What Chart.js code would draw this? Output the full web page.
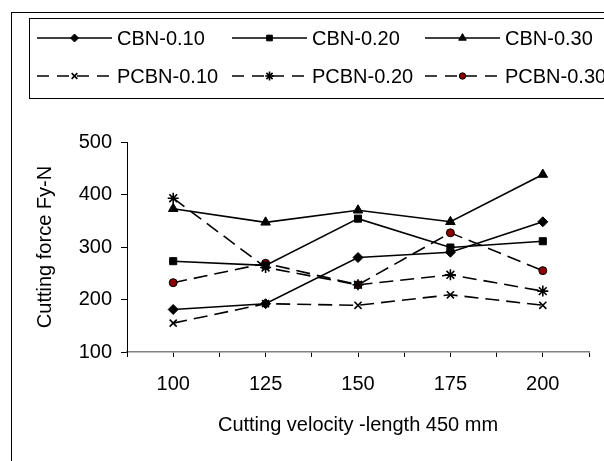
<!DOCTYPE html>
<html>
<head>
<meta charset="utf-8">
<script src="https://cdn.jsdelivr.net/npm/chart.js@4"></script>
<style>
  html, body { margin: 0; padding: 0; background: #fff; }
  #wrap { width: 604px; height: 461px; position: relative; }
</style>
</head>
<body>
<div id="wrap"><canvas id="chart" width="604" height="461"></canvas></div>
<script>
// cutting velocity (x)
const velocities = [100, 125, 150, 175, 200];
const seriesNames = ['CBN-0.10', 'CBN-0.20', 'CBN-0.30', 'PCBN-0.10', 'PCBN-0.20', 'PCBN-0.30'];

// cutting force Fy (N)
const cbn010 = [181, 192, 280, 290, 348];
const cbn020 = [273, 265, 354, 299, 311];
const cbn030 = [373, 347, 370, 348, 438];
const pcbn010 = [155, 192, 189, 209, 189];
const pcbn020 = [393, 261, 228, 247, 216];
const pcbn030 = [232, 269, 228, 327, 255];

const yTicks = [100, 200, 300, 400, 500];
const xTickLabels = ['100', '125', '150', '175', '200'];

const FONT = "'Liberation Sans', Arial, sans-serif";
Chart.defaults.font.family = FONT;
Chart.defaults.font.size = 20;
Chart.defaults.color = '#000';

const solid = [];
const dashed = [14, 7];

function pts(vals) {
  return vals.map((v, i) => ({ x: velocities[i], y: v }));
}

function series(name, vals, dash, style, radius, fill, bw) {
  return {
    label: name,
    data: pts(vals),
    borderColor: '#000',
    borderWidth: 1.6,
    borderDash: dash,
    pointStyle: style,
    pointRadius: radius,
    pointHoverRadius: radius,
    pointBackgroundColor: fill,
    pointBorderColor: '#000',
    pointBorderWidth: bw,
    tension: 0,
    fill: false
  };
}

const datasets = [
  series(seriesNames[0], cbn010, solid, 'rectRot', 5, '#000', 1),
  series(seriesNames[1], cbn020, solid, 'rect', 5, '#000', 1),
  series(seriesNames[2], cbn030, solid, 'triangle', 5.5, '#000', 1),
  series(seriesNames[3], pcbn010, dashed, 'crossRot', 5, '#000', 1.6),
  series(seriesNames[4], pcbn020, dashed, 'star', 5.5, '#000', 1.6),
  series(seriesNames[5], pcbn030, dashed, 'circle', 4, '#8b0000', 1)
];

// frame + legend box drawn like the spreadsheet export
const framePlugin = {
  id: 'frame',
  afterDraw(chart) {
    const ctx = chart.ctx;
    ctx.save();
    ctx.strokeStyle = '#000';
    ctx.lineWidth = 1;
    ctx.setLineDash([]);
    ctx.strokeRect(11.5, 12.5, 800, 600);
    ctx.strokeRect(29.5, 18.5, 800, 80);

    const rows = [38, 76];
    const cols = [37, 232, 425];
    chart.data.datasets.forEach((ds, i) => {
      const y = rows[Math.floor(i / 3)];
      const x0 = cols[i % 3];
      const len = 75;
      ctx.beginPath();
      ctx.setLineDash(ds.borderDash.length ? [12, 8] : []);
      ctx.lineWidth = ds.borderWidth;
      ctx.strokeStyle = ds.borderColor;
      ctx.moveTo(x0, y);
      ctx.lineTo(x0 + len, y);
      ctx.stroke();
      ctx.setLineDash([]);
      ctx.fillStyle = ds.pointBackgroundColor;
      ctx.strokeStyle = ds.pointBorderColor;
      ctx.lineWidth = ds.pointBorderWidth;
      Chart.helpers.drawPoint(ctx, {
        pointStyle: ds.pointStyle,
        radius: ds.pointRadius * 0.8,
        rotation: 0,
        borderWidth: ds.pointBorderWidth
      }, x0 + len / 2, y);
      ctx.fillStyle = '#000';
      ctx.font = '20px ' + FONT;
      ctx.textBaseline = 'middle';
      ctx.textAlign = 'left';
      ctx.fillText(ds.label, x0 + len + 5, y + 1);
    });
    ctx.restore();
  }
};

new Chart(document.getElementById('chart'), {
  type: 'line',
  data: { datasets },
  options: {
    responsive: false,
    animation: false,
    layout: { padding: { top: 142, right: 9, left: 0, bottom: 0 } },
    plugins: {
      legend: { display: false },
      tooltip: { enabled: false }
    },
    scales: {
      x: {
        type: 'linear',
        min: 87.5,
        max: 212.5,
        afterBuildTicks(scale) {
          const t = [];
          for (let v = 87.5; v <= 212.5; v += 12.5) t.push({ value: v });
          scale.ticks = t;
        },
        afterFit(scale) { scale.height = 109; },
        ticks: {
          autoSkip: false,
          maxRotation: 0,
          padding: 15,
          callback(v) {
            const i = velocities.indexOf(v);
            return i >= 0 ? xTickLabels[i] : '';
          }
        },
        grid: { drawOnChartArea: false, drawTicks: true, tickLength: 5, color: '#000' },
        border: { color: '#808080', width: 1.5 },
        title: {
          display: true,
          text: 'Cutting velocity -length 450 mm',
          padding: { top: 4, bottom: 24 }
        }
      },
      y: {
        min: 100,
        max: 500,
        afterBuildTicks(scale) { scale.ticks = yTicks.map(v => ({ value: v })); },
        afterFit(scale) { scale.width = 127; },
        ticks: { padding: 9 },
        grid: { drawOnChartArea: false, drawTicks: true, tickLength: 6, color: '#000' },
        border: { color: '#000', width: 1 },
        title: {
          display: true,
          text: 'Cutting force Fy-N',
          padding: { top: 33, bottom: 4 }
        }
      }
    }
  },
  plugins: [framePlugin]
});
</script>
</body>
</html>
